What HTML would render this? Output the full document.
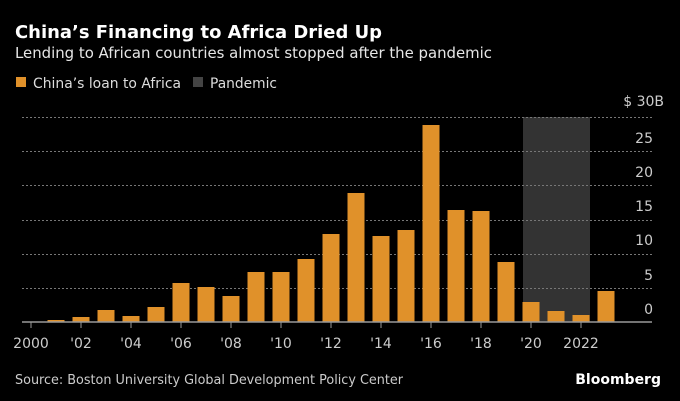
<!DOCTYPE html>
<html><head><meta charset="utf-8"><style>
html,body{margin:0;padding:0;background:#000;}
svg{display:block;font-family:"DejaVu Sans","Liberation Sans",sans-serif;}
</style></head><body>
<svg width="680" height="401" viewBox="0 0 680 401" xmlns="http://www.w3.org/2000/svg">
<rect width="680" height="401" fill="#000"/>
<text x="15" y="38" fill="#fff" font-size="17.5" font-weight="bold" textLength="367" lengthAdjust="spacingAndGlyphs">China’s Financing to Africa Dried Up</text>
<text x="15" y="58" fill="#e6e6e6" font-size="15" textLength="477" lengthAdjust="spacingAndGlyphs">Lending to African countries almost stopped after the pandemic</text>
<rect x="16" y="77" width="10" height="10" fill="#e0912a"/>
<text x="33" y="88" fill="#ddd" font-size="14.5" textLength="148" lengthAdjust="spacingAndGlyphs">China’s loan to Africa</text>
<rect x="193" y="77" width="10" height="10" fill="#444"/>
<text x="210" y="88" fill="#ddd" font-size="14.5" textLength="67" lengthAdjust="spacingAndGlyphs">Pandemic</text>
<rect x="523" y="117" width="67" height="205" fill="#333"/>
<g stroke="#777" stroke-width="1" stroke-dasharray="2,2">
<line x1="22" x2="652" y1="117.5" y2="117.5"/>
<line x1="22" x2="652" y1="151.5" y2="151.5"/>
<line x1="22" x2="652" y1="185.5" y2="185.5"/>
<line x1="22" x2="652" y1="220.5" y2="220.5"/>
<line x1="22" x2="652" y1="254.5" y2="254.5"/>
<line x1="22" x2="652" y1="288.5" y2="288.5"/>
</g>
<g fill="#e0912a">
<rect x="47.5" y="320" width="17" height="2"/>
<rect x="72.5" y="317" width="17" height="5"/>
<rect x="97.5" y="310" width="17" height="12"/>
<rect x="122.5" y="316" width="17" height="6"/>
<rect x="147.5" y="307" width="17" height="15"/>
<rect x="172.5" y="283" width="17" height="39"/>
<rect x="197.5" y="287" width="17" height="35"/>
<rect x="222.5" y="296" width="17" height="26"/>
<rect x="247.5" y="272" width="17" height="50"/>
<rect x="272.5" y="272" width="17" height="50"/>
<rect x="297.5" y="259" width="17" height="63"/>
<rect x="322.5" y="234" width="17" height="88"/>
<rect x="347.5" y="193" width="17" height="129"/>
<rect x="372.5" y="236" width="17" height="86"/>
<rect x="397.5" y="230" width="17" height="92"/>
<rect x="422.5" y="125" width="17" height="197"/>
<rect x="447.5" y="210" width="17" height="112"/>
<rect x="472.5" y="211" width="17" height="111"/>
<rect x="497.5" y="262" width="17" height="60"/>
<rect x="522.5" y="302" width="17" height="20"/>
<rect x="547.5" y="311" width="17" height="11"/>
<rect x="572.5" y="315" width="17" height="7"/>
<rect x="597.5" y="291" width="17" height="31"/>
</g>
<line x1="22" x2="652" y1="322" y2="322" stroke="#999" stroke-width="1.5"/>
<g stroke="#999" stroke-width="1">
<line x1="31" x2="31" y1="322" y2="328"/><line x1="81" x2="81" y1="322" y2="328"/>
<line x1="131" x2="131" y1="322" y2="328"/><line x1="181" x2="181" y1="322" y2="328"/>
<line x1="231" x2="231" y1="322" y2="328"/><line x1="281" x2="281" y1="322" y2="328"/>
<line x1="331" x2="331" y1="322" y2="328"/><line x1="381" x2="381" y1="322" y2="328"/>
<line x1="431" x2="431" y1="322" y2="328"/><line x1="481" x2="481" y1="322" y2="328"/>
<line x1="531" x2="531" y1="322" y2="328"/><line x1="581" x2="581" y1="322" y2="328"/>
</g>
<g fill="#ccc" font-size="14" text-anchor="middle">
<text x="31" y="348">2000</text><text x="81" y="348">'02</text><text x="131" y="348">'04</text>
<text x="181" y="348">'06</text><text x="231" y="348">'08</text><text x="281" y="348">'10</text>
<text x="331" y="348">'12</text><text x="381" y="348">'14</text><text x="431" y="348">'16</text>
<text x="481" y="348">'18</text><text x="531" y="348">'20</text><text x="581" y="348">2022</text>
</g>
<g fill="#ccc" font-size="14" text-anchor="end">
<text x="664" y="106">$ 30B</text>
<text x="653" y="143">25</text><text x="653" y="177">20</text><text x="653" y="211">15</text>
<text x="653" y="245">10</text><text x="653" y="280">5</text><text x="653" y="314">0</text>
</g>
<text x="15" y="384" fill="#ccc" font-size="13.5" textLength="388" lengthAdjust="spacingAndGlyphs">Source: Boston University Global Development Policy Center</text>
<text x="661" y="384" fill="#fff" font-size="14" font-weight="bold" text-anchor="end">Bloomberg</text>
</svg>
</body></html>
